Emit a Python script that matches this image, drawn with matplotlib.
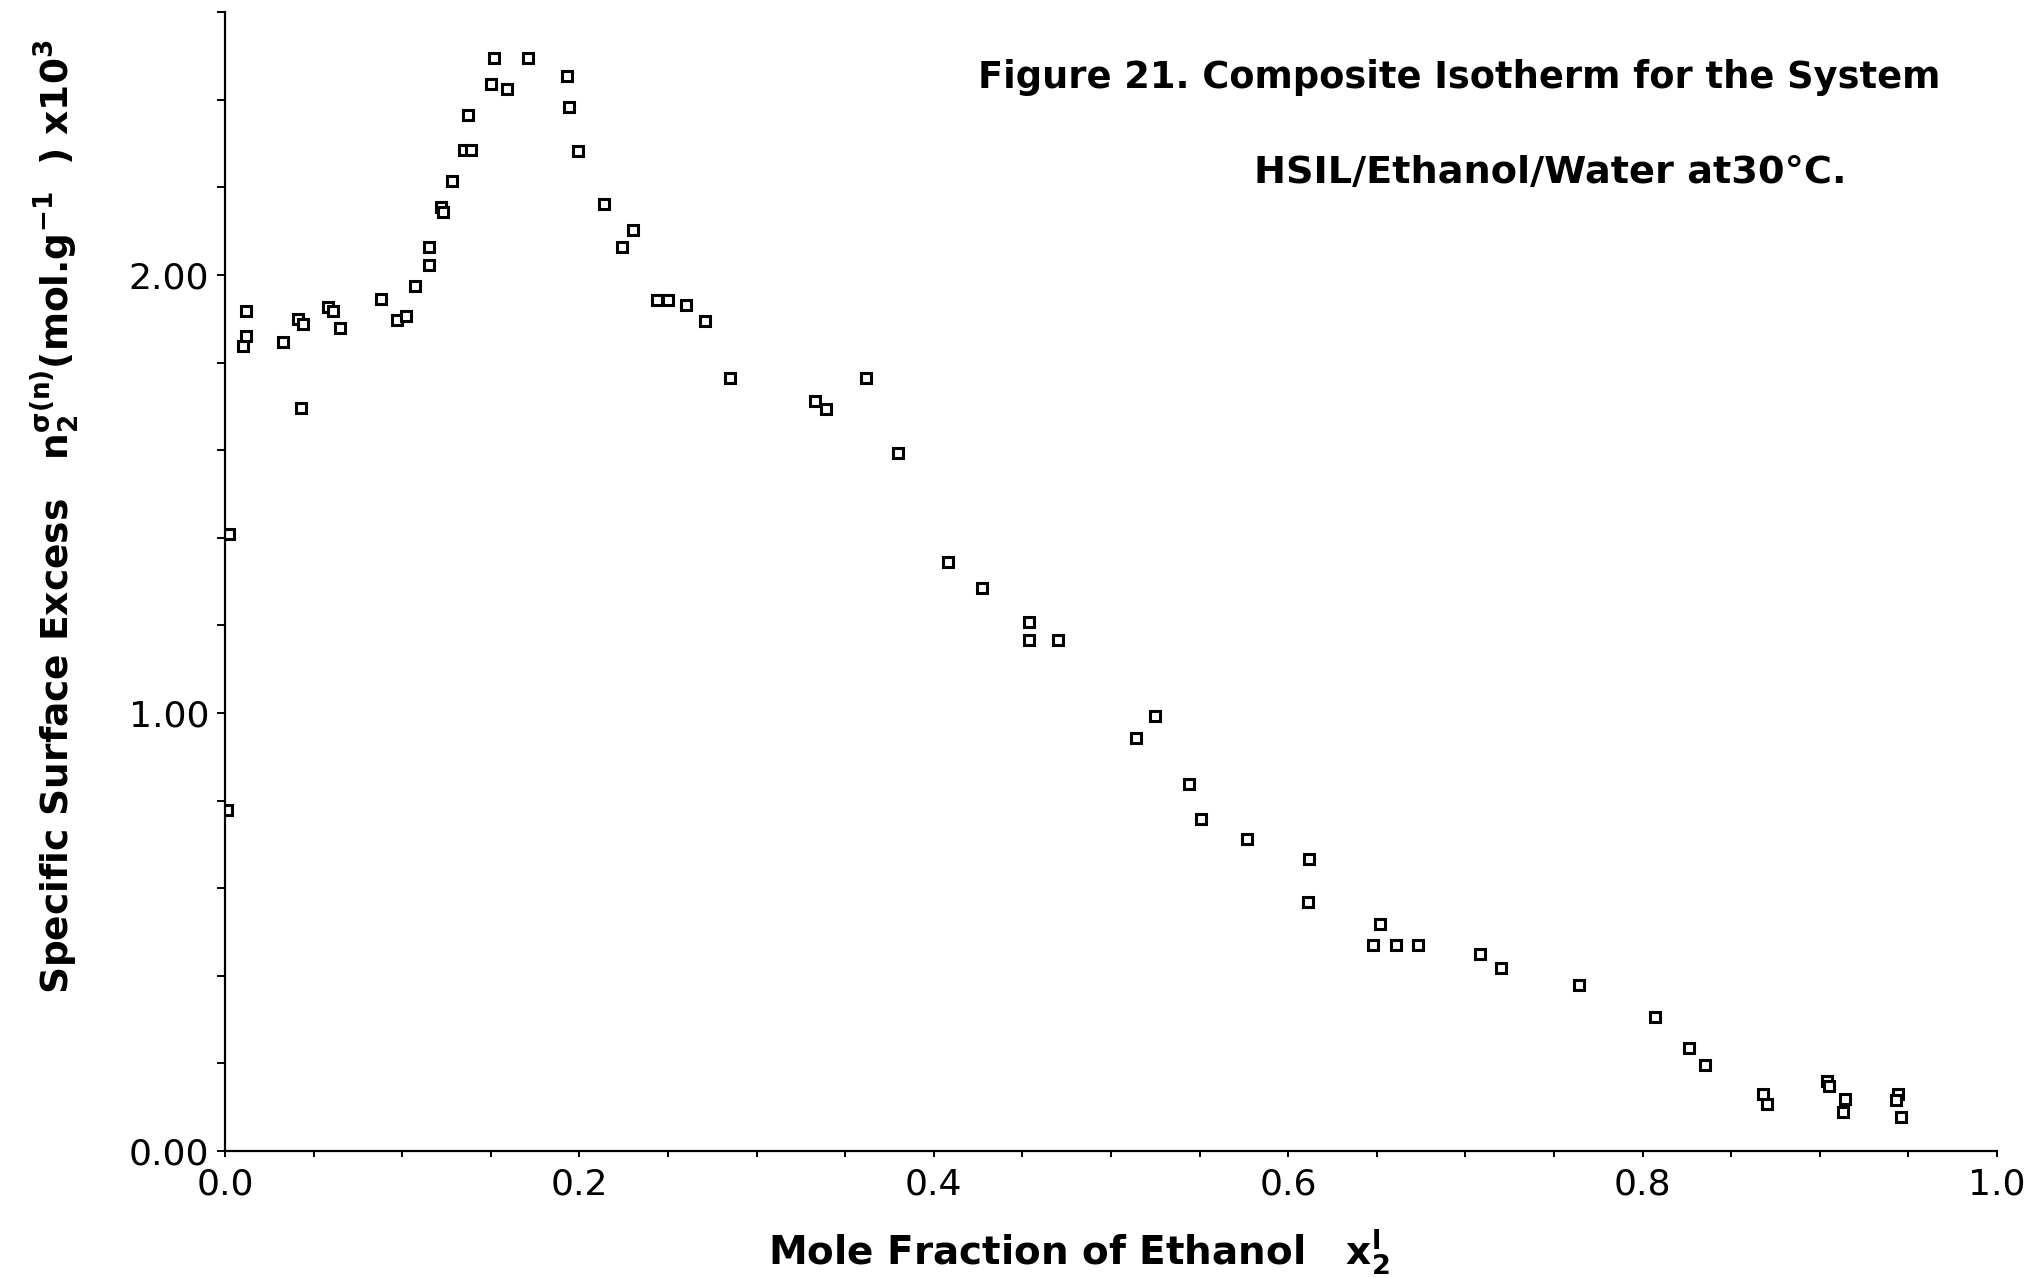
import matplotlib
matplotlib.use("Agg")
import matplotlib.pyplot as plt
from matplotlib.ticker import MultipleLocator, FixedLocator, FixedFormatter

# composite isotherm, HSIL / ethanol / water at 30 C
mole_fraction = [
    0.001, 0.002, 0.010, 0.012, 0.012, 0.033, 0.041, 0.044, 0.043, 0.058,
    0.061, 0.065, 0.088, 0.097, 0.102, 0.107, 0.115, 0.115, 0.122, 0.123,
    0.128, 0.135, 0.139, 0.137, 0.150, 0.152, 0.159, 0.171, 0.193, 0.194,
    0.199, 0.214, 0.224, 0.230, 0.244, 0.250, 0.260, 0.271, 0.285, 0.333,
    0.339, 0.362, 0.380, 0.408, 0.427, 0.454, 0.454, 0.470, 0.514, 0.525,
    0.544, 0.551, 0.577, 0.612, 0.611, 0.648, 0.652, 0.661, 0.673, 0.708,
    0.720, 0.764, 0.807, 0.826, 0.835, 0.868, 0.870, 0.904, 0.905, 0.914,
    0.913, 0.944, 0.943, 0.946,
]
surface_excess = [
    0.779, 1.409, 1.838, 1.861, 1.918, 1.848, 1.899, 1.888, 1.697, 1.928,
    1.918, 1.878, 1.946, 1.897, 1.907, 1.975, 2.024, 2.065, 2.156, 2.143,
    2.214, 2.285, 2.285, 2.365, 2.436, 2.495, 2.425, 2.495, 2.455, 2.384,
    2.283, 2.162, 2.064, 2.103, 1.943, 1.943, 1.932, 1.896, 1.766, 1.712,
    1.694, 1.766, 1.593, 1.344, 1.285, 1.208, 1.166, 1.166, 0.944, 0.994,
    0.837, 0.757, 0.712, 0.667, 0.568, 0.470, 0.519, 0.470, 0.470, 0.449,
    0.418, 0.378, 0.306, 0.236, 0.196, 0.129, 0.108, 0.160, 0.148, 0.119,
    0.090, 0.129, 0.116, 0.078,
]

y_tick_values = [0.0, 1.0, 2.0]
y_tick_labels = ["0.00", "1.00", "2.00"]
x_tick_values = [0.0, 0.2, 0.4, 0.6, 0.8, 1.0]
x_tick_labels = ["0.0", "0.2", "0.4", "0.6", "0.8", "1.0"]

plt.rcParams["font.family"] = "DejaVu Sans"
plt.rcParams["mathtext.default"] = "bf"

fig = plt.figure(figsize=(20.4, 12.78), dpi=100)
ax = fig.add_axes([0.1103, 0.0994, 0.8686, 0.891])

ax.plot(mole_fraction, surface_excess, linestyle="none", marker="s",
        markersize=6.5, markerfacecolor="white", markeredgecolor="black",
        markeredgewidth=2.2)

ax.set_xlim(0, 1.0)
ax.set_ylim(0, 2.6)

for side in ["top", "right"]:
    ax.spines[side].set_visible(False)
for side in ["left", "bottom"]:
    ax.spines[side].set_linewidth(1.6)

ax.xaxis.set_major_locator(FixedLocator(x_tick_values))
ax.xaxis.set_major_formatter(FixedFormatter(x_tick_labels))
ax.xaxis.set_minor_locator(MultipleLocator(0.05))
ax.yaxis.set_major_locator(FixedLocator(y_tick_values))
ax.yaxis.set_major_formatter(FixedFormatter(y_tick_labels))
ax.yaxis.set_minor_locator(MultipleLocator(0.2))

ax.tick_params(axis="x", which="both", direction="out", length=4, width=1.4,
               labelsize=26, pad=8)
ax.tick_params(axis="y", which="both", direction="out", length=5.5, width=1.4,
               labelsize=26, pad=6)

# titles and axis labels
fig.text(0.7155, 0.939, "Figure 21. Composite Isotherm for the System",
         ha="center", va="center", fontsize=26.5, fontweight="bold")
fig.text(0.760, 0.8646, "HSIL/Ethanol/Water at30°C.",
         ha="center", va="center", fontsize=27.5, fontweight="bold")
fig.text(0.529, 0.0102, r"Mole Fraction of Ethanol   $x_2^{l}$",
         ha="center", va="baseline", fontsize=28, fontweight="bold")
fig.text(0.0275, 0.596,
         r"Specific Surface Excess   $n_2^{\sigma(n)}$(mol.g$^{-1}$  ) x10$^3$",
         ha="center", va="center", rotation=90, fontsize=27, fontweight="bold")

fig.savefig("out.png", dpi=100)
